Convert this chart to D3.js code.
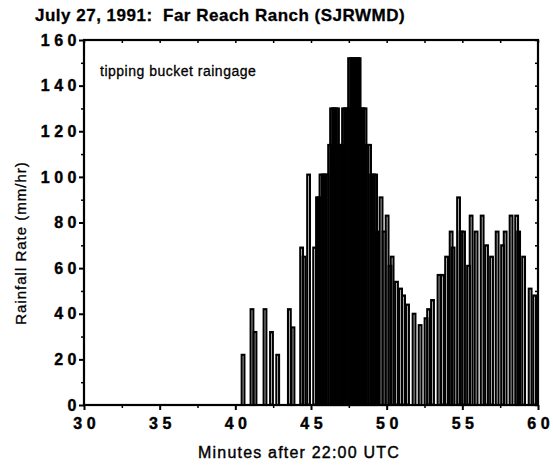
<!DOCTYPE html>
<html>
<head>
<meta charset="utf-8">
<script src="https://cdn.jsdelivr.net/npm/d3@7/dist/d3.min.js"></script>
<style>
  html, body { margin: 0; padding: 0; background: #fff; }
  svg { display: block; }
  text { font-family: "Liberation Sans", Arial, sans-serif; fill: #000; }
</style>
</head>
<body>
<svg id="chart" width="553" height="469"></svg>
<script>
// Tip times (minutes after 22:00 UTC) and rainfall rates (mm/hr) from the tipping bucket gauge
const tipMinutes = [
  40.51, 41.10, 41.30, 41.96, 42.39, 42.80, 43.57, 43.81,
  44.38, 44.54, 44.84, 45.24, 45.43,
  45.53, 45.66, 45.80, 45.93, 46.06, 46.23, 46.36, 46.49, 46.62, 46.75,
  46.89, 47.02, 47.15, 47.28, 47.42, 47.55, 47.68, 47.81, 47.94, 48.08,
  48.18, 48.31, 48.44, 48.57, 48.70, 48.87, 49.00, 49.13, 49.27,
  49.37, 49.63, 49.83, 50.03, 50.22, 50.36, 50.65, 50.92, 51.12, 51.38,
  51.81, 52.21, 52.60, 52.77, 53.03, 53.46, 53.69, 53.96, 54.26, 54.39,
  54.75, 54.92, 55.08, 55.41, 55.58, 55.91, 56.31, 56.60, 56.93, 57.30,
  57.66, 57.83, 58.22, 58.59, 58.72, 59.05, 59.48, 59.78
];
const tipRates = [
  22, 42, 32, 42, 32, 22, 42, 34,
  69, 65, 101, 69, 91,
  91, 101, 101, 101, 101, 114, 130, 130, 130, 130,
  114, 114, 130, 130, 130, 152, 152, 152, 152, 152,
  152, 130, 130, 130, 114, 114, 101, 101, 101,
  76, 91, 76, 83, 61, 65, 54, 51, 48, 44,
  40, 35, 38, 42, 46, 57, 57, 65, 76, 69,
  91, 76, 76, 61, 83, 76, 83, 70, 65, 76,
  70, 76, 83, 83, 76, 65, 51, 48
];

const xTicks = [30, 35, 40, 45, 50, 55, 60];
const xMinorTicks = [32.5, 37.5, 42.5, 47.5, 52.5, 57.5];
const yTicks = [0, 20, 40, 60, 80, 100, 120, 140, 160];
const yMinorTicks = [10, 30, 50, 70, 90, 110, 130, 150];

const titleText = "July 27, 1991:  Far Reach Ranch (SJRWMD)";
const xLabel = "Minutes after 22:00 UTC";
const yLabel = "Rainfall Rate (mm/hr)";
const noteText = "tipping bucket raingage";

const barMinutes = 0.18; // drawn width of each tip bar, in minutes

const svg = d3.select("#chart");
const plotLeft = 84, plotRight = 538, plotTop = 40, plotBottom = 405;

const x = d3.scaleLinear().domain([30, 60]).range([plotLeft, plotRight]);
const y = d3.scaleLinear().domain([0, 160]).range([plotBottom, plotTop]);

// Bars: outlined rectangles, overlapping in the heavy-rain burst
const bars = svg.append("g");
tipMinutes.forEach((t, i) => {
  const w = x(t + barMinutes) - x(t);
  bars.append("rect")
    .attr("x", x(t) - w / 2)
    .attr("y", y(tipRates[i]))
    .attr("width", w)
    .attr("height", y(0) - y(tipRates[i]))
    .attr("fill", "none")
    .attr("stroke", "#000")
    .attr("stroke-width", 2.1);
});

// Frame
svg.append("rect")
  .attr("x", plotLeft).attr("y", plotTop)
  .attr("width", plotRight - plotLeft).attr("height", plotBottom - plotTop)
  .attr("fill", "none").attr("stroke", "#000").attr("stroke-width", 2.2);

// Bottom axis
const gx = svg.append("g").attr("transform", `translate(0,${plotBottom})`)
  .call(d3.axisBottom(x).tickValues(xTicks).tickSize(5).tickFormat(d3.format("d")));
gx.select(".domain").remove();
gx.selectAll(".tick line").attr("stroke-width", 2);
gx.selectAll(".tick text")
  .attr("y", 13)
  .attr("dy", "0.71em")
  .attr("dx", 2.2)
  .attr("stroke", "#000").attr("stroke-width", 0.4)
  .style("font-size", "16px")
  .style("font-weight", "bold")
  .style("letter-spacing", "4.5px");

const gxm = svg.append("g").attr("transform", `translate(0,${plotBottom})`)
  .call(d3.axisBottom(x).tickValues(xMinorTicks).tickSize(3).tickFormat(""));
gxm.select(".domain").remove();
gxm.selectAll(".tick line").attr("stroke-width", 1.5);

// Top axis, ticks pointing inward
const gt = svg.append("g").attr("transform", `translate(0,${plotTop})`)
  .call(d3.axisBottom(x).tickValues(xTicks.concat(xMinorTicks)).tickSize(3).tickFormat(""));
gt.select(".domain").remove();
gt.selectAll(".tick line").attr("stroke-width", 1.5);

// Left axis
const gy = svg.append("g").attr("transform", `translate(${plotLeft},0)`)
  .call(d3.axisLeft(y).tickValues(yTicks).tickSize(5).tickFormat(d3.format("d")));
gy.select(".domain").remove();
gy.selectAll(".tick line").attr("stroke-width", 2);
gy.selectAll(".tick text")
  .attr("x", -3)
  .attr("stroke", "#000").attr("stroke-width", 0.4)
  .style("font-size", "16px")
  .style("font-weight", "bold")
  .style("letter-spacing", "4.5px");

const gym = svg.append("g").attr("transform", `translate(${plotLeft},0)`)
  .call(d3.axisLeft(y).tickValues(yMinorTicks).tickSize(3).tickFormat(""));
gym.select(".domain").remove();
gym.selectAll(".tick line").attr("stroke-width", 1.5);

// Right axis, ticks pointing inward
const gr = svg.append("g").attr("transform", `translate(${plotRight},0)`)
  .call(d3.axisRight(y).tickValues(yTicks.concat(yMinorTicks)).tickSize(-3).tickFormat(""));
gr.select(".domain").remove();
gr.selectAll(".tick line").attr("stroke-width", 1.5);

// Labels
svg.append("text")
  .attr("x", 35).attr("y", 21)
  .style("font-size", "17px").style("font-weight", "bold")
  .style("letter-spacing", "0.5px")
  .style("white-space", "pre")
  .attr("stroke", "#000").attr("stroke-width", 0.3)
  .text(titleText);

svg.append("text")
  .attr("x", 100).attr("y", 76)
  .style("font-size", "14px")
  .style("letter-spacing", "0.5px")
  .attr("stroke", "#000").attr("stroke-width", 0.3)
  .text(noteText);

svg.append("text")
  .attr("x", 299).attr("y", 458)
  .attr("text-anchor", "middle")
  .style("font-size", "16px")
  .style("letter-spacing", "1.2px")
  .attr("stroke", "#000").attr("stroke-width", 0.4)
  .text(xLabel);

svg.append("text")
  .attr("transform", "translate(26,243) rotate(-90)")
  .attr("text-anchor", "middle")
  .style("font-size", "15px")
  .style("letter-spacing", "1px")
  .attr("stroke", "#000").attr("stroke-width", 0.3)
  .text(yLabel);
</script>
</body>
</html>
